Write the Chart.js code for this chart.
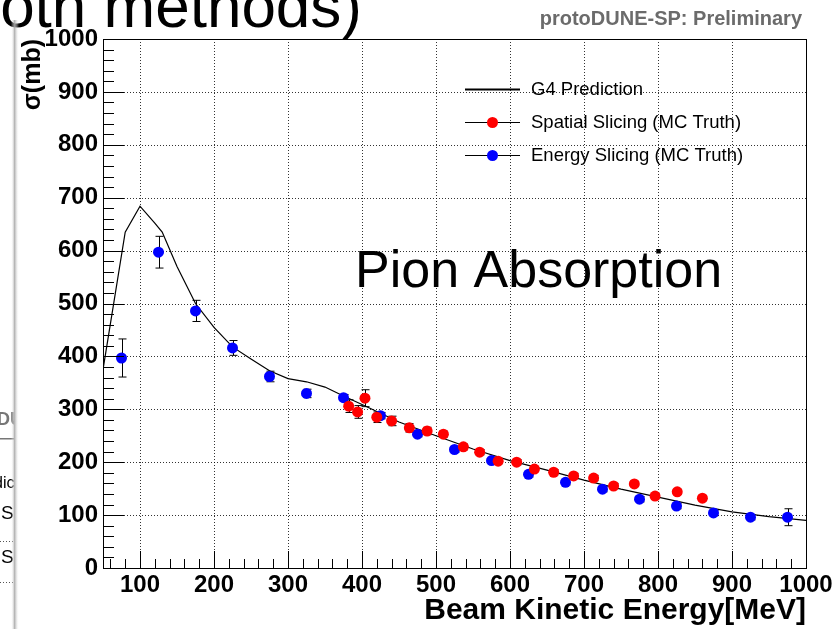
<!DOCTYPE html>
<html>
<head>
<meta charset="utf-8">
<script src="https://cdn.jsdelivr.net/npm/chart.js@4.4.1/dist/chart.umd.min.js"></script>
<style>
  html, body { margin: 0; padding: 0; background: #fff; }
  #wrap { width: 837px; height: 629px; position: relative; }
</style>
</head>
<body>
<div id="wrap"><canvas id="chart"></canvas></div>
<script>
"use strict";

// G4 prediction curve
const g4X = [50, 80, 100, 120, 130, 150, 175, 200, 225, 250, 275, 300, 325, 350, 375, 400,
  450, 500, 550, 600, 650, 700, 750, 800, 850, 900, 950, 1000];
const g4Y = [375, 635, 684, 652, 635, 570, 500, 455, 418, 395, 373, 358, 352, 342, 325, 309,
  276, 250, 225, 203, 185, 166, 149, 134, 119, 106, 97, 90];

// Spatial slicing (MC truth), red
const spatialX = [382, 394, 404, 420, 440, 464, 488, 510, 537, 559, 584, 609, 633, 659, 686,
  713, 740, 768, 796, 826, 860];
const spatialY = [306, 295, 321, 285, 278, 265, 259, 253, 229, 219, 202, 200, 187, 181, 174,
  170, 155, 159, 136, 144, 132];
const spatialErr = [12, 12, 16, 10, 9, 8, 7, 6, 6, 5, 5, 5, 5, 5, 5, 5, 5, 5, 5, 5, 5];

// Energy slicing (MC truth), blue
const energyX = [75, 125, 175, 225, 275, 325, 375, 425, 475, 525, 575, 625, 675, 725, 775,
  825, 875, 925, 975];
const energyY = [397, 597, 486, 416, 362, 330, 322, 288, 253, 224, 203, 177, 162, 149, 130,
  117, 104, 96, 96];
const energyErr = [36, 30, 20, 14, 10, 8, 6, 6, 5, 5, 5, 5, 5, 5, 5, 5, 5, 5, 16];

// Axis ticks
const xTicks = [100, 200, 300, 400, 500, 600, 700, 800, 900, 1000];
const yTicks = [0, 100, 200, 300, 400, 500, 600, 700, 800, 900, 1000];

const FONT = "'Liberation Sans', Arial, Helvetica, sans-serif";

const toPoints = (xs, ys) => xs.map((v, i) => ({ x: v, y: ys[i] }));

function line(ctx, x1, y1, x2, y2) {
  ctx.beginPath();
  ctx.moveTo(x1, y1);
  ctx.lineTo(x2, y2);
  ctx.stroke();
}

// ROOT look: dotted grid, inner ticks, error bars, legend, texts
const rootStyle = {
  id: "rootStyle",
  beforeDatasetsDraw(chart) {
    const { ctx, chartArea: a, scales: { x, y } } = chart;
    ctx.save();
    ctx.strokeStyle = "rgba(0,0,0,0.8)";
    ctx.lineWidth = 1;
    ctx.setLineDash([1, 2]);
    xTicks.filter(v => v > x.min && v < x.max).forEach(v => {
      const px = Math.round(x.getPixelForValue(v)) + 0.5;
      line(ctx, px, a.top, px, a.bottom);
    });
    yTicks.filter(v => v > y.min && v < y.max).forEach(v => {
      const py = Math.round(y.getPixelForValue(v)) + 0.5;
      line(ctx, a.left, py, a.right, py);
    });
    ctx.setLineDash([]);

    // error bars
    ctx.strokeStyle = "#000";
    const bars = (xs, ys, es) => xs.forEach((v, i) => {
      const px = Math.round(x.getPixelForValue(v)) + 0.5;
      const top = y.getPixelForValue(ys[i] + es[i]);
      const bot = y.getPixelForValue(ys[i] - es[i]);
      line(ctx, px, top, px, bot);
      line(ctx, px - 4, top, px + 4, top);
      line(ctx, px - 4, bot, px + 4, bot);
    });
    bars(energyX, energyY, energyErr);
    bars(spatialX, spatialY, spatialErr);
    ctx.restore();
  },
  afterDatasetsDraw(chart) {
    const { ctx, chartArea: a, scales: { x, y } } = chart;
    ctx.save();
    ctx.strokeStyle = "#000";
    ctx.lineWidth = 1;
    // frame
    ctx.strokeRect(Math.round(a.left) + 0.5, Math.round(a.top) + 0.5,
      Math.round(a.right - a.left), Math.round(a.bottom - a.top));
    // y ticks (inside)
    for (let v = y.min; v <= y.max; v += 20) {
      const py = Math.round(y.getPixelForValue(v)) + 0.5;
      const len = v % 100 === 0 ? 21 : 11;
      line(ctx, a.left, py, a.left + len, py);
    }
    // x ticks (inside)
    for (let v = 60; v <= x.max; v += 20) {
      const px = Math.round(x.getPixelForValue(v)) + 0.5;
      const len = v % 100 === 0 ? 17 : 9;
      line(ctx, px, a.bottom, px, a.bottom - len);
    }
    ctx.restore();
  },
  afterDraw(chart) {
    const { ctx } = chart;
    ctx.save();

    // legend
    const lx1 = 465, lx2 = 520, tx = 531;
    const rows = [
      { y: 89, text: "G4 Prediction", color: "#000", dot: false, w: 2 },
      { y: 122, text: "Spatial Slicing (MC Truth)", color: "#ff0000", dot: true, w: 1 },
      { y: 155, text: "Energy Slicing (MC Truth)", color: "#0000ff", dot: true, w: 1 }
    ];
    ctx.font = "18.5px " + FONT;
    ctx.textBaseline = "middle";
    rows.forEach(r => {
      ctx.strokeStyle = "#000";
      ctx.lineWidth = r.w;
      line(ctx, lx1, r.y + 0.5, lx2, r.y + 0.5);
      if (r.dot) {
        ctx.fillStyle = r.color;
        ctx.beginPath();
        ctx.arc((lx1 + lx2) / 2, r.y + 0.5, 5.5, 0, Math.PI * 2);
        ctx.fill();
      }
      ctx.fillStyle = "#000";
      ctx.textAlign = "left";
      ctx.fillText(r.text, tx, r.y + 1);
    });

    // in-plot label
    ctx.textBaseline = "alphabetic";
    ctx.font = "52px " + FONT;
    ctx.fillStyle = "#000";
    ctx.fillText("Pion Absorption", 355, 287);

    // header
    ctx.font = "bold 20px " + FONT;
    ctx.fillStyle = "#6b6b6b";
    ctx.textAlign = "right";
    ctx.fillText("protoDUNE-SP: Preliminary", 802, 25);

    // slide title remnant at top
    ctx.font = "62px " + FONT;
    ctx.fillStyle = "#000";
    ctx.textAlign = "left";
    ctx.fillText("(both methods)", -55, 27);

    // left slide remnant
    ctx.save();
    ctx.beginPath();
    ctx.rect(0, 0, 14, 629);
    ctx.clip();
    ctx.fillStyle = "#777";
    ctx.font = "bold 18px " + FONT;
    ctx.fillText("DU", -3, 425);
    ctx.fillRect(0, 438, 14, 1.5);
    ctx.fillStyle = "#000";
    ctx.font = "16px " + FONT;
    ctx.fillText("dic", -6, 488);
    ctx.font = "19px " + FONT;
    ctx.fillText("S", 1, 519);
    ctx.fillText("S", 1, 563);
    ctx.strokeStyle = "#555";
    ctx.setLineDash([1, 2]);
    line(ctx, 0, 541.5, 14, 541.5);
    line(ctx, 0, 582.5, 14, 582.5);
    ctx.restore();

    // page edge shadow
    const g = ctx.createLinearGradient(11, 0, 19, 0);
    g.addColorStop(0, "rgba(255,255,255,0)");
    g.addColorStop(0.45, "rgba(170,170,170,0.9)");
    g.addColorStop(1, "rgba(255,255,255,0)");
    ctx.fillStyle = g;
    ctx.fillRect(11, 20, 8, 609);

    ctx.restore();
  }
};

new Chart(document.getElementById("chart"), {
  type: "scatter",
  data: {
    datasets: [
      {
        label: "Spatial Slicing (MC Truth)",
        data: toPoints(spatialX, spatialY),
        backgroundColor: "#ff0000",
        borderColor: "#ff0000",
        pointRadius: 5.5,
        pointBorderWidth: 0
      },
      {
        label: "Energy Slicing (MC Truth)",
        data: toPoints(energyX, energyY),
        backgroundColor: "#0000ff",
        borderColor: "#0000ff",
        pointRadius: 5.5,
        pointBorderWidth: 0
      },
      {
        label: "G4 Prediction",
        data: toPoints(g4X, g4Y),
        showLine: true,
        borderColor: "#000",
        borderWidth: 1.2,
        pointRadius: 0,
        tension: 0
      }
    ]
  },
  options: {
    responsive: true,
    maintainAspectRatio: false,
    animation: false,
    events: [],
    layout: { padding: { top: 39, right: 31, left: 0, bottom: 0 } },
    plugins: {
      legend: { display: false },
      tooltip: { enabled: false },
      title: { display: false }
    },
    scales: {
      x: {
        type: "linear",
        min: 50,
        max: 1000,
        afterBuildTicks: s => { s.ticks = xTicks.map(v => ({ value: v })); },
        afterFit: s => { s.height = 61; },
        grid: { display: false, drawTicks: false },
        border: { display: false },
        ticks: {
          padding: 3,
          color: "#000",
          font: { family: FONT, size: 24, weight: "bold" },
          callback: v => String(v),
          maxRotation: 0,
          autoSkip: false
        },
        title: {
          display: true,
          text: "Beam Kinetic Energy[MeV]",
          align: "end",
          color: "#000",
          font: { family: FONT, size: 30, weight: "bold" },
          padding: { top: 0, bottom: 0 }
        }
      },
      y: {
        type: "linear",
        min: 0,
        max: 1000,
        afterBuildTicks: s => { s.ticks = yTicks.map(v => ({ value: v })); },
        afterFit: s => { s.width = 103; },
        grid: { display: false, drawTicks: false },
        border: { display: false },
        ticks: {
          padding: 5,
          color: "#000",
          font: { family: FONT, size: 24, weight: "bold" },
          callback: v => String(v),
          autoSkip: false
        },
        title: {
          display: true,
          text: "σ(mb)",
          align: "end",
          color: "#000",
          font: { family: FONT, size: 25, weight: "bold" },
          padding: { top: 18, bottom: 0 }
        }
      }
    }
  },
  plugins: [rootStyle]
});
</script>
</body>
</html>
